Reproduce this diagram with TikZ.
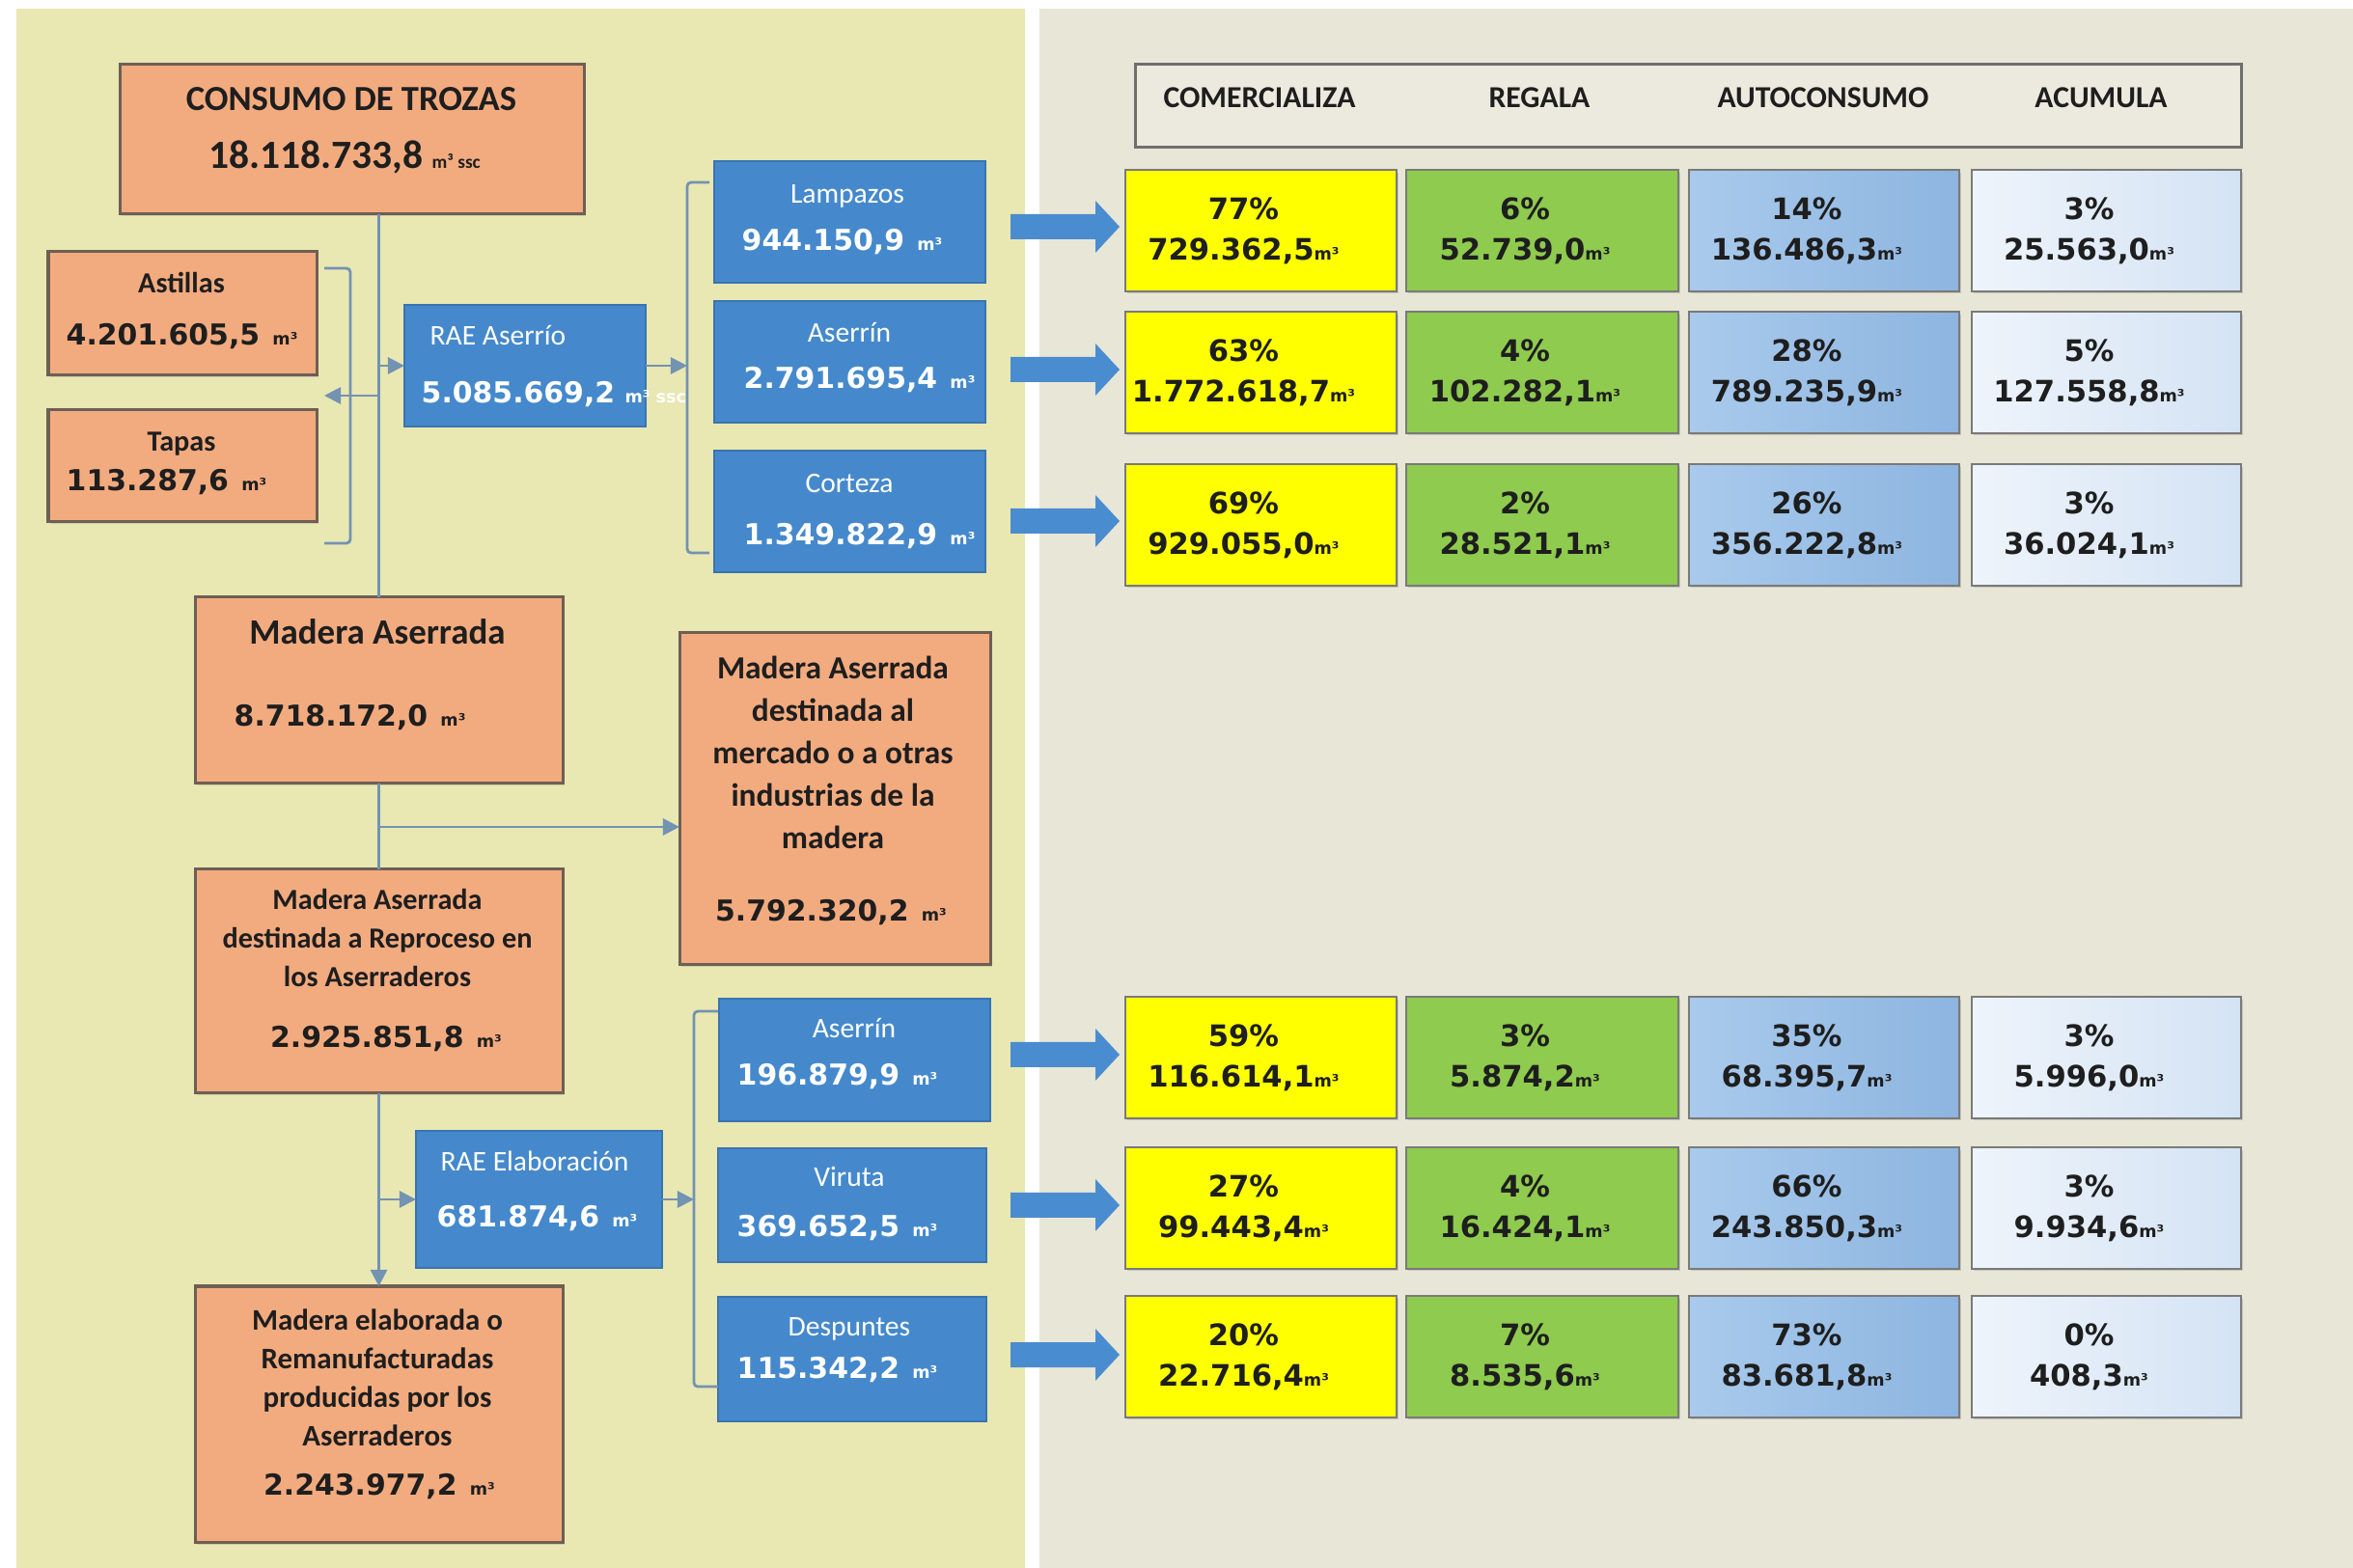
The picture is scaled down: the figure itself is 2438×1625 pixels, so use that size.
\documentclass[tikz,border=0pt]{standalone}
\usepackage{fontspec}
\setmainfont{Carlito}
\newfontfamily\numfont{DejaVu Sans}
\usetikzlibrary{arrows.meta,shadows}
\definecolor{panelL}{HTML}{E9E7B2}
\definecolor{panelR}{HTML}{E8E6D6}
\definecolor{orangeF}{HTML}{F2AB7F}
\definecolor{orangeE}{HTML}{6E5F55}
\definecolor{blueF}{HTML}{4589CC}
\definecolor{blueE}{HTML}{3A74B0}
\definecolor{connC}{HTML}{7393B3}
\definecolor{arrowC}{HTML}{4A8CD0}
\definecolor{cellY}{HTML}{FFFF00}
\definecolor{cellG}{HTML}{8FCB4E}
\definecolor{cellB1}{HTML}{A9CAEC}
\definecolor{cellB2}{HTML}{8DB5E0}
\definecolor{cellL1}{HTML}{EEF4FB}
\definecolor{cellL2}{HTML}{D4E3F4}
\definecolor{cellE}{HTML}{7A7A7A}
\definecolor{txtD}{HTML}{1E1E1E}
\definecolor{hdrE}{HTML}{6F6F6F}
\definecolor{hdrF}{HTML}{ECEADE}
\newcommand\mcub{{\fontsize{5}{5}\selectfont\,m³}}
\newcommand\bx[6]{\node[#2,minimum width={(#5-#3)*0.01cm},minimum height={(#6-#4)*0.01cm}] (#1) at ({(#3+#5)/2},{(#4+#6)/2}) {};}
\newcommand\cel[7]{\node[cell,#2,minimum width={(#4-#3)*0.01cm}] (#1) at ({(#3+#4)/2},{#5+62}) {};
  \node[celltxt] (#1-t) at ({(#3+#4)/2-18},{#5+62}) {#6\\#7{\fontsize{5}{5}\selectfont m³}};}
\newcommand\bigarr[1]{\fill[arrowC] (1047,{#1-13}) -- (1135,{#1-13}) -- (1135,{#1-27}) -- (1160,#1) -- (1135,{#1+27}) -- (1135,{#1+13}) -- (1047,{#1+13}) -- cycle;}
\begin{document}
\begin{tikzpicture}[x=0.01cm,y=-0.01cm,
  obox/.style={draw=orangeE,line width=0.03cm,fill=orangeF,inner sep=0,outer sep=0,
    drop shadow={shadow xshift=0.02cm,shadow yshift=-0.025cm,opacity=0.25}},
  bbox/.style={draw=blueE,line width=0.015cm,fill=blueF,inner sep=0,outer sep=0},
  hdrbox/.style={draw=hdrE,line width=0.03cm,fill=hdrF,inner sep=0,outer sep=0},
  cell/.style={draw=cellE,line width=0.02cm,minimum height=1.25cm,inner sep=0,outer sep=0,
    drop shadow={shadow xshift=0.015cm,shadow yshift=-0.025cm,opacity=0.3}},
  cY/.style={fill=cellY}, cG/.style={fill=cellG},
  cB/.style={left color=cellB1,right color=cellB2},
  cL/.style={left color=cellL1,right color=cellL2},
  celltxt/.style={align=center,inner sep=0,text=txtD,font={\numfont\bfseries\fontsize{8.7}{12}\selectfont}},
  conn/.style={draw=connC,line width=0.028cm},
  arr/.style={conn,-{Triangle[length=0.17cm,width=0.17cm]}},
  sl/.style={inner sep=0,text height=0.65em,text depth=0.15em},
  otitle/.style={sl,text=txtD,font={\bfseries\fontsize{8.6}{10}\selectfont}},
  oval/.style={sl,text=txtD,font={\numfont\bfseries\fontsize{8.5}{10}\selectfont}},
  btitle/.style={sl,text=white,font={\fontsize{8.4}{10}\selectfont}},
  bval/.style={sl,text=white,font={\numfont\bfseries\fontsize{8.5}{10}\selectfont}},
  omulti/.style={align=center,inner sep=0,text=txtD},
  hdrtxt/.style={sl,text=txtD,font={\bfseries\fontsize{9}{10}\selectfont}}
]
\useasboundingbox (0,0) rectangle (2438,1625);
\fill[white] (0,0) rectangle (2438,1625);
\fill[panelL] (17,9) rectangle (1062,1625);
\fill[panelR] (1077,9) rectangle (2438,1625);

% ---- left boxes
\bx{cons}{obox}{124}{67}{605}{222}
\bx{ast}{obox}{50}{261}{328}{389}
\bx{tap}{obox}{50}{425}{328}{541}
\bx{raeA}{bbox}{419}{316}{669}{442}
\bx{lam}{bbox}{740}{167}{1021}{293}
\bx{aseA}{bbox}{740}{312}{1021}{438}
\bx{cor}{bbox}{740}{467}{1021}{593}
\bx{mad}{obox}{202}{619}{583}{812}
\bx{mer}{obox}{704}{656}{1026}{1000}
\bx{rep}{obox}{202}{901}{583}{1133}
\bx{ela}{obox}{202}{1333}{583}{1598}
\bx{raeE}{bbox}{431}{1172}{686}{1314}
\bx{aseE}{bbox}{745}{1035}{1026}{1162}
\bx{vir}{bbox}{744}{1190}{1022}{1308}
\bx{des}{bbox}{744}{1344}{1022}{1473}

% ---- connectors
\coordinate (yL) at (0,410);
\coordinate (yM) at (0,857);
\coordinate (bL1) at (336,278); \coordinate (bL2) at (363,278);
\coordinate (bL3) at (363,563); \coordinate (bL4) at (336,563);
\coordinate (bA1) at (735,189); \coordinate (bA2) at (712,189);
\coordinate (bA3) at (712,573); \coordinate (bA4) at (735,573);
\coordinate (bE1) at (744,1048); \coordinate (bE2) at (719,1048);
\coordinate (bE3) at (719,1437); \coordinate (bE4) at (744,1437);
\draw[conn,rounded corners=0.04cm] (bL1) -- (bL2) -- (bL3) -- (bL4);
\draw[conn,rounded corners=0.04cm] (bA1) -- (bA2) -- (bA3) -- (bA4);
\draw[conn,rounded corners=0.04cm] (bE1) -- (bE2) -- (bE3) -- (bE4);
\draw[conn] (cons.south -| mad.north) -- (mad.north);
\draw[arr] (mad.north |- yL) -- (bL1 |- yL);
\draw[arr] (raeA.west -| mad.north) -- (raeA.west);
\draw[arr] (raeA.east) -- (bA2 |- raeA.east);
\draw[conn] (mad.south) -- (rep.north);
\draw[arr] (mad.south |- yM) -- (mer.west |- yM);
\draw[arr] (rep.south) -- (ela.north);
\draw[arr] (raeE.west -| rep.south) -- (raeE.west);
\draw[arr] (raeE.east) -- (bE2 |- raeE.east);

% ---- left texts
\node[sl,text=txtD,font={\bfseries\fontsize{10.4}{12}\selectfont}] (cons-t) at (364,106) {CONSUMO DE TROZAS};
\node[sl,text=txtD,font={\bfseries\fontsize{11.8}{13}\selectfont}] (cons-v) at (357,166) {18.118.733,8 {\fontsize{5.5}{6}\selectfont m³ ssc}};
\node[otitle] (ast-t) at (188,295) {Astillas};
\node[oval,anchor=west] (ast-v) at (68,349) {4.201.605,5 \mcub};
\node[otitle] (tap-t) at (188,459) {Tapas};
\node[oval,anchor=west] (tap-v) at (68,500) {113.287,6 \mcub};
\node[btitle,anchor=west] (raeA-t) at (445,349) {RAE Aserrío};
\node[bval,anchor=west] (raeA-v) at (436,409) {5.085.669,2 {\fontsize{5}{5}\selectfont m³ ssc}};
\node[btitle] (lam-t) at (878,202) {Lampazos};
\node[bval,anchor=west] (lam-v) at (768,251) {944.150,9 \mcub};
\node[btitle] (aseA-t) at (880,346) {Aserrín};
\node[bval,anchor=west] (aseA-v) at (770,394) {2.791.695,4 \mcub};
\node[btitle] (cor-t) at (880,502) {Corteza};
\node[bval,anchor=west] (cor-v) at (770,556) {1.349.822,9 \mcub};
\node[otitle,font={\bfseries\fontsize{10.5}{12}\selectfont}] (mad-t) at (391,659) {Madera Aserrada};
\node[oval,anchor=west] (mad-v) at (242,744) {8.718.172,0 \mcub};
\node[omulti,font={\bfseries\fontsize{9.5}{12.5}\selectfont}] (mer-t) at (863,780) {Madera Aserrada\\destinada al\\mercado o a otras\\industrias de la\\madera};
\node[oval] (mer-v) at (861,946) {5.792.320,2 \mcub};
\node[omulti,font={\bfseries\fontsize{8.6}{11.4}\selectfont}] (rep-t) at (391,972) {Madera Aserrada\\destinada a Reproceso en\\los Aserraderos};
\node[oval] (rep-v) at (400,1077) {2.925.851,8 \mcub};
\node[omulti,font={\bfseries\fontsize{8.8}{11.4}\selectfont}] (ela-t) at (391,1428) {Madera elaborada o\\Remanufacturadas\\producidas por los\\Aserraderos};
\node[oval] (ela-v) at (393,1541) {2.243.977,2 \mcub};
\node[btitle] (raeE-t) at (554,1205) {RAE Elaboración};
\node[bval,anchor=west] (raeE-v) at (452,1263) {681.874,6 \mcub};
\node[btitle] (aseE-t) at (885,1067) {Aserrín};
\node[bval,anchor=west] (aseE-v) at (763,1116) {196.879,9 \mcub};
\node[btitle] (vir-t) at (880,1221) {Viruta};
\node[bval,anchor=west] (vir-v) at (763,1273) {369.652,5 \mcub};
\node[btitle] (des-t) at (880,1376) {Despuntes};
\node[bval,anchor=west] (des-v) at (763,1420) {115.342,2 \mcub};

% ---- big arrows
\bigarr{235}\bigarr{383}\bigarr{540}\bigarr{1093}\bigarr{1249}\bigarr{1404}

% ---- header
\bx{hdr}{hdrbox}{1176}{67}{2322}{153}
\node[hdrtxt] (h1) at (1305,103) {COMERCIALIZA};
\node[hdrtxt] (h2) at (1595,103) {REGALA};
\node[hdrtxt] (h3) at (1889,103) {AUTOCONSUMO};
\node[hdrtxt] (h4) at (2177,103) {ACUMULA};

% ---- cells
\cel{c11}{cY}{1166}{1447}{177}{77\%}{729.362,5}
\cel{c12}{cG}{1457}{1739}{177}{6\%}{52.739,0}
\cel{c13}{cB}{1750}{2030}{177}{14\%}{136.486,3}
\cel{c14}{cL}{2043}{2322}{177}{3\%}{25.563,0}
\cel{c21}{cY}{1166}{1447}{324}{63\%}{1.772.618,7}
\cel{c22}{cG}{1457}{1739}{324}{4\%}{102.282,1}
\cel{c23}{cB}{1750}{2030}{324}{28\%}{789.235,9}
\cel{c24}{cL}{2043}{2322}{324}{5\%}{127.558,8}
\cel{c31}{cY}{1166}{1447}{482}{69\%}{929.055,0}
\cel{c32}{cG}{1457}{1739}{482}{2\%}{28.521,1}
\cel{c33}{cB}{1750}{2030}{482}{26\%}{356.222,8}
\cel{c34}{cL}{2043}{2322}{482}{3\%}{36.024,1}
\cel{c41}{cY}{1166}{1447}{1034}{59\%}{116.614,1}
\cel{c42}{cG}{1457}{1739}{1034}{3\%}{5.874,2}
\cel{c43}{cB}{1750}{2030}{1034}{35\%}{68.395,7}
\cel{c44}{cL}{2043}{2322}{1034}{3\%}{5.996,0}
\cel{c51}{cY}{1166}{1447}{1190}{27\%}{99.443,4}
\cel{c52}{cG}{1457}{1739}{1190}{4\%}{16.424,1}
\cel{c53}{cB}{1750}{2030}{1190}{66\%}{243.850,3}
\cel{c54}{cL}{2043}{2322}{1190}{3\%}{9.934,6}
\cel{c61}{cY}{1166}{1447}{1344}{20\%}{22.716,4}
\cel{c62}{cG}{1457}{1739}{1344}{7\%}{8.535,6}
\cel{c63}{cB}{1750}{2030}{1344}{73\%}{83.681,8}
\cel{c64}{cL}{2043}{2322}{1344}{0\%}{408,3}
\end{tikzpicture}
\end{document}
